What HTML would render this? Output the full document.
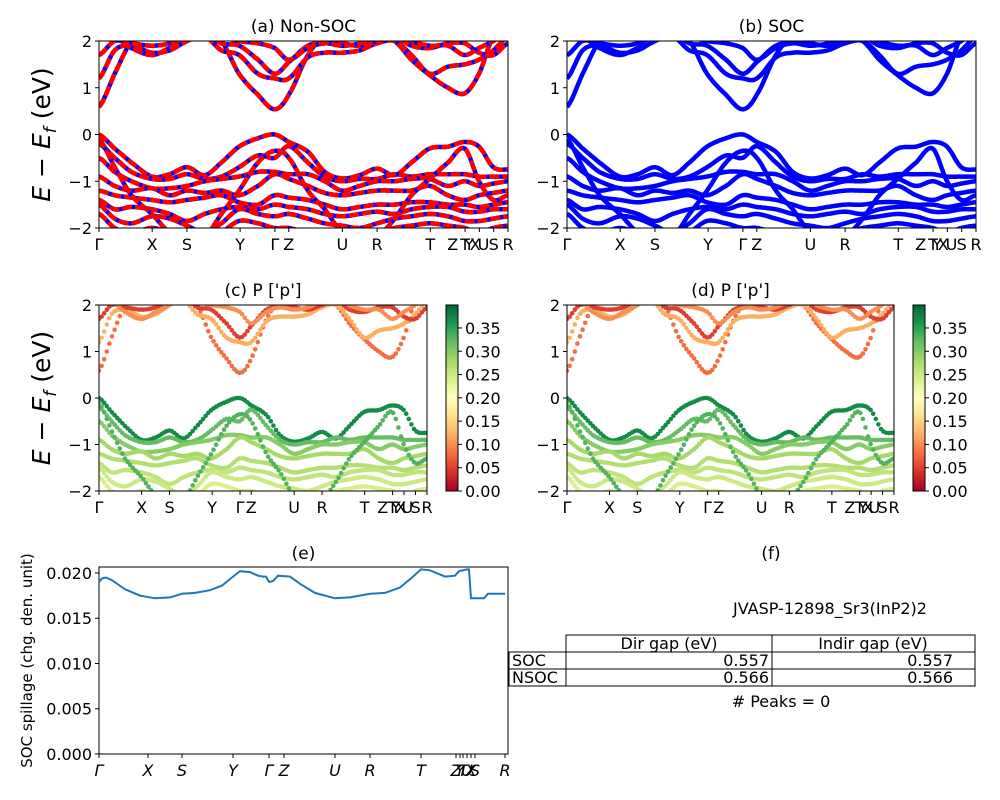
<!DOCTYPE html>
<html><head><meta charset="utf-8"><style>
html,body{margin:0;padding:0;background:#fff;}
svg{display:block;font-family:"DejaVu Sans","Liberation Sans",sans-serif;}
</style></head><body>
<svg id="fig" width="1000" height="800" viewBox="0 0 1000 800">
<defs id="defs"></defs>
</svg>
<script>
// ---- data ----
const kGrid = [13,60,110,172,225,277,330,380,433,490,540,582,640,690,742,795,847,900,950,1005,1060,1110,1153,1196,1240].map(z=>(z-13)/1227);
const kTickPos = [0,0.13,0.215,0.345,0.43,0.464,0.595,0.68,0.81,0.865,0.895,0.905,0.92,0.94,0.965,1];
const kTickLabels = ['Γ','X','S','Y','Γ','Z','U','R','T','Z','T','Y','X','U','S','R'];
const kTickLines = [0,0.13,0.215,0.345,0.43,0.464,0.595,0.68,0.81,0.895,0.93,0.965,1];
const condBands = [
 [0.59,1.3,2.0,2.3,2.4,2.3,2.2,2.0,1.3,0.85,0.54,0.85,1.7,2.1,2.2,2.2,2.1,2.0,1.6,1.27,1.0,0.88,1.3,2.1,2.3],
 [1.2,1.8,1.9,1.75,1.8,2.0,2.1,1.8,1.7,1.3,1.2,1.2,1.65,1.75,1.75,1.8,1.95,2.0,1.7,1.3,1.45,1.5,1.6,1.8,2.1],
 [1.7,2.0,1.95,1.9,1.95,2.1,2.2,1.95,1.9,1.6,1.3,1.55,1.9,1.95,1.95,1.9,2.0,2.1,1.9,1.85,1.95,1.95,1.75,1.7,1.95],
 [2.2,2.1,1.85,1.7,1.85,2.0,2.3,2.1,2.0,1.95,1.85,1.6,1.85,1.95,1.9,1.95,2.1,2.2,2.0,1.9,1.9,1.7,1.85,2.0,2.2]
];
const valBands = [
 [0,-0.3,-0.6,-0.9,-0.85,-0.7,-0.87,-0.6,-0.26,-0.08,0.0,-0.16,-0.37,-0.8,-0.94,-0.87,-0.73,-0.87,-0.6,-0.3,-0.26,-0.16,-0.26,-0.7,-0.75],
 [-0.2,-0.5,-0.8,-0.95,-0.95,-0.85,-0.95,-0.9,-0.7,-0.45,-0.5,-0.25,-0.6,-0.9,-1.0,-0.95,-0.95,-0.85,-0.9,-0.85,-0.85,-0.85,-0.9,-0.9,-0.9],
 [-0.5,-0.8,-1.0,-1.15,-1.15,-1.1,-1.0,-0.95,-0.9,-0.8,-0.8,-0.85,-0.85,-1.0,-1.2,-1.1,-1.0,-1.0,-0.95,-0.95,-1.1,-1.0,-1.1,-1.05,-1.0],
 [-0.9,-1.1,-1.2,-1.15,-1.3,-1.2,-1.25,-1.2,-1.3,-1.1,-0.85,-0.95,-1.1,-1.25,-1.3,-1.25,-1.2,-1.2,-1.2,-1.1,-1.3,-1.4,-1.3,-1.25,-1.2],
 [-1.2,-1.3,-1.35,-1.4,-1.45,-1.4,-1.35,-1.3,-1.45,-1.5,-1.3,-1.35,-1.4,-1.5,-1.6,-1.55,-1.5,-1.5,-1.45,-1.45,-1.5,-1.5,-1.55,-1.5,-1.45],
 [-1.4,-1.6,-1.55,-1.6,-1.7,-1.85,-1.7,-1.6,-1.55,-1.6,-1.5,-1.55,-1.6,-1.7,-1.75,-1.7,-1.65,-1.7,-1.6,-1.55,-1.55,-1.65,-1.65,-1.6,-1.6],
 [-1.5,-1.8,-1.9,-1.75,-1.8,-1.95,-2.1,-1.9,-1.6,-1.7,-1.75,-1.7,-1.8,-1.9,-1.95,-2.0,-1.9,-1.8,-1.75,-1.7,-1.75,-1.85,-1.85,-1.8,-1.75],
 [-1.7,-2.0,-2.1,-2.0,-2.1,-2.2,-2.3,-2.1,-1.85,-1.9,-2.0,-2.0,-2.1,-2.1,-2.2,-2.2,-2.1,-2.0,-1.95,-1.9,-1.95,-2.0,-2.1,-2.0,-1.95],
 [-0.1,-0.7,-1.3,-1.7,-2.1,-2.3,-2.2,-1.7,-1.2,-0.6,-0.35,-0.5,-1.2,-1.6,-2.1,-2.3,-2.2,-1.8,-1.3,-0.95,-0.6,-0.3,-1.0,-1.4,-1.3]
];
const condWeights = [0.08,0.12,0.05,0.1];
const valWeights = [0.37,0.32,0.3,0.28,0.27,0.26,0.25,0.24,0.33];
const spillK = [99,102,106,112,125,140,155,170,182,195,210,222,233,240,250,258,263,266,269,273,278,290,300,315,335,350,370,385,400,412,421,430,445,455,459,467,469,471,476,484,488,505];
const spillV = [0.0190,0.0194,0.0195,0.0192,0.0182,0.0175,0.0172,0.0173,0.0177,0.0178,0.0181,0.0186,0.0196,0.0202,0.0201,0.0197,0.0196,0.0196,0.0190,0.0191,0.0197,0.0196,0.0188,0.0178,0.0172,0.0173,0.0177,0.0178,0.0184,0.0195,0.0204,0.0203,0.0196,0.0197,0.0202,0.0204,0.0204,0.0172,0.0172,0.0172,0.0177,0.0177];
const eTickPos = [99,148,182,233,269,284,335,370,421,456,460,463,467,471,475,505];
const eTickLabels = ['Γ','X','S','Y','Γ','Z','U','R','T','Z','Y','T','U','X','S','R'];
const eYTicks = [0,0.005,0.010,0.015,0.020];
const cbTicks = [0,0.05,0.1,0.15,0.2,0.25,0.3,0.35];
const tableRows = [['SOC','0.557','0.557'],['NSOC','0.566','0.566']];

// ---- helpers ----
const NS='http://www.w3.org/2000/svg';
const svg=document.getElementById('fig');
const defs=document.getElementById('defs');
function mk(tag,attrs,parent){const e=document.createElementNS(NS,tag);for(const k in attrs)e.setAttribute(k,attrs[k]);(parent||svg).appendChild(e);return e;}
function txt(s,x,y,size,anchor,parent,extra){const t=mk('text',Object.assign({x:x,y:y,'font-size':size,'text-anchor':anchor||'middle',fill:'#000'},extra||{}),parent);t.textContent=s;return t;}
function interp(vals,f){
  const k=kGrid;let i=0;while(i<k.length-2&&f>k[i+1])i++;
  const t=(f-k[i])/(k[i+1]-k[i]);
  const p0=vals[Math.max(i-1,0)],p1=vals[i],p2=vals[i+1],p3=vals[Math.min(i+2,vals.length-1)];
  const t2=t*t,t3=t2*t;
  return 0.5*((2*p1)+(-p0+p2)*t+(2*p0-5*p1+4*p2-p3)*t2+(-p0+3*p1-3*p2+p3)*t3);
}
const cmapStops=['#a50026','#d73027','#f46d43','#fdae61','#fee08b','#ffffbf','#d9ef8b','#a6d96a','#66bd63','#1a9850','#006837'];
function hex(h){return [parseInt(h.substr(1,2),16),parseInt(h.substr(3,2),16),parseInt(h.substr(5,2),16)];}
function cmap(t){t=Math.max(0,Math.min(1,t));const p=t*10,i=Math.min(9,Math.floor(p)),r=p-i;const a=hex(cmapStops[i]),b=hex(cmapStops[i+1]);return 'rgb('+a.map((v,j)=>Math.round(v+(b[j]-v)*r)).join(',')+')';}
const VMAX=0.3993;

function bandAxes(name,x0,x1,y0,y1,title,ylab){
  const g=mk('g',{});
  
  
  const cid='clip-'+name;
  const cp=mk('clipPath',{id:cid},defs);mk('rect',{x:x0,y:y0,width:x1-x0,height:y1-y0},cp);
  const sx=f=>x0+f*(x1-x0), sy=E=>y1-(E+2)/4*(y1-y0);
  const plot=mk('g',{'clip-path':'url(#'+cid+')'},g);
  
  
  mk('rect',{x:x0,y:y0,width:x1-x0,height:y1-y0,fill:'none',stroke:'#000','stroke-width':1},g);
  for(let E=-2;E<=2;E++){const y=sy(E);mk('line',{x1:x0-4,x2:x0,y1:y,y2:y,stroke:'#000'},g);txt(String(E).replace('-','−'),x0-7,y+6,16,'end',g);}
  kTickLines.forEach(f=>{mk('line',{x1:sx(f),x2:sx(f),y1:y1,y2:y1+4,stroke:'#000'},g);});
  kTickLabels.forEach((l,i)=>{const t=txt(l,sx(kTickPos[i]),y1+22,16,'middle',g);});
  const tt=txt(title,(x0+x1)/2,y0-9,17,'middle',g);
  
  
  if(ylab){
    const yl=mk('text',{x:0,y:0,'font-size':25,'text-anchor':'middle',transform:'translate(50,'+((y0+y1)/2)+') rotate(-90)'},g);
    
    
    yl.innerHTML='<tspan font-style="italic">E</tspan> − <tspan font-style="italic">E</tspan><tspan font-style="italic" font-size="17" dy="6">f</tspan><tspan dy="-6"> (eV)</tspan>';
  }
  return {plot,sx,sy,x0,x1,y0,y1};
}
function bandPath(vals,ax){let d='';for(let i=0;i<=500;i++){const f=i/500;d+=(i?'L':'M')+ax.sx(f).toFixed(1)+','+ax.sy(interp(vals,f)).toFixed(1);}return d;}
const allBands=condBands.concat(valBands), allW=condWeights.concat(valWeights);

// (a) Non-SOC
const A=bandAxes('panel-a-nonsoc',99,508,41,228,'(a) Non-SOC',true);
allBands.forEach(b=>{
  const p1=mk('path',{d:bandPath(b,A),fill:'none',stroke:'#0000ff','stroke-width':4.5},A.plot);
  
  
  const p2=mk('path',{d:bandPath(b,A),fill:'none',stroke:'#ff0000','stroke-width':4.5,'stroke-dasharray':'10,3'},A.plot);
  
  
});
// (b) SOC
const B=bandAxes('panel-b-soc',567,976,41,228,'(b) SOC',false);
allBands.forEach(b=>{
  const p=mk('path',{d:bandPath(b,B),fill:'none',stroke:'#0000ff','stroke-width':4.5},B.plot);
  
  
});
// (c),(d) projected
function projPanel(name,x0,x1,title,ylab,cbx){
  const ax=bandAxes(name,x0,x1,305,491,title,ylab);
  allBands.forEach((b,bi)=>{
    const col=cmap(allW[bi]/VMAX);
    const n=Math.round((x1-x0)/2.6);
    for(let i=0;i<=n;i++){const f=i/n;const c=mk('circle',{cx:ax.sx(f).toFixed(1),cy:ax.sy(interp(b,f)).toFixed(1),r:2.3,fill:col},ax.plot);
      
      }
  });
  const cb=mk('g',{});
  
  
  const gid='grad-'+name;const lg=mk('linearGradient',{id:gid,x1:0,y1:1,x2:0,y2:0},defs);
  cmapStops.forEach((c,i)=>mk('stop',{offset:i/10,'stop-color':c},lg));
  mk('rect',{x:cbx,y:305,width:12,height:186,fill:'url(#'+gid+')',stroke:'#000','stroke-width':1},cb);
  cbTicks.forEach(v=>{const y=491-v/VMAX*186;mk('line',{x1:cbx+12,x2:cbx+16,y1:y,y2:y,stroke:'#000'},cb);txt(v.toFixed(2),cbx+19,y+6,16,'start',cb);});
}
projPanel('panel-c-proj',99,427,'(c)  P [\'p\']',true,446);
projPanel('panel-d-proj',567,894,'(d) P [\'p\']',false,913);

// (e) spillage
(function(){
  const x0=99,x1=508,y0=567,y1=754;
  const g=mk('g',{});
  
  
  const sy=v=>y1-v/0.02066*(y1-y0);
  mk('rect',{x:x0,y:y0,width:x1-x0,height:y1-y0,fill:'none',stroke:'#000'},g);
  eYTicks.forEach(v=>{const y=sy(v);mk('line',{x1:x0-4,x2:x0,y1:y,y2:y,stroke:'#000'},g);txt(v.toFixed(3),x0-7,y+6,16,'end',g);});
  eTickPos.forEach((x,i)=>{mk('line',{x1:x,x2:x,y1:y1,y2:y1+4,stroke:'#000'},g);const t=txt(eTickLabels[i],x,y1+22,16,'middle',g,{'font-style':'italic'});});
  let d='';spillK.forEach((x,i)=>{d+=(i?'L':'M')+x+','+sy(spillV[i]).toFixed(1);});
  const p=mk('path',{d:d,fill:'none',stroke:'#1f77b4','stroke-width':2},g);
  
  
  const t=txt('(e)',(x0+x1)/2,y0-8,17,'middle',g);
  
  
  const yl=txt('SOC spillage (chg. den. unit)',0,0,15,'middle',g,{transform:'translate(32,'+((y0+y1)/2)+') rotate(-90)'});
  
  
})();

// (f) table
(function(){
  const g=mk('g',{});
  
  
  const t1=txt('(f)',771,559,17,'middle',g);
  
  
  const t2=txt('JVASP-12898_Sr3(InP2)2',830,614,16,'middle',g);
  
  
  mk('rect',{x:566,y:635,width:409,height:17,fill:'none',stroke:'#000'},g);
  mk('line',{x1:772,x2:772,y1:635,y2:686,stroke:'#000'},g);
  mk('rect',{x:509,y:652,width:466,height:34,fill:'none',stroke:'#000'},g);
  mk('line',{x1:509,x2:975,y1:669,y2:669,stroke:'#000'},g);
  mk('line',{x1:566,x2:566,y1:652,y2:686,stroke:'#000'},g);
  txt('Dir gap (eV)',669,649,16,'middle',g);
  txt('Indir gap (eV)',873,649,16,'middle',g);
  tableRows.forEach((r,i)=>{const y=666+i*17;txt(r[0],512,y,16,'start',g);txt(r[1],769,y,16,'end',g);txt(r[2],953,y,16,'end',g);});
  const t3=txt('# Peaks = 0',781,707,16,'middle',g);
  
  
})();
</script>
</body></html>
